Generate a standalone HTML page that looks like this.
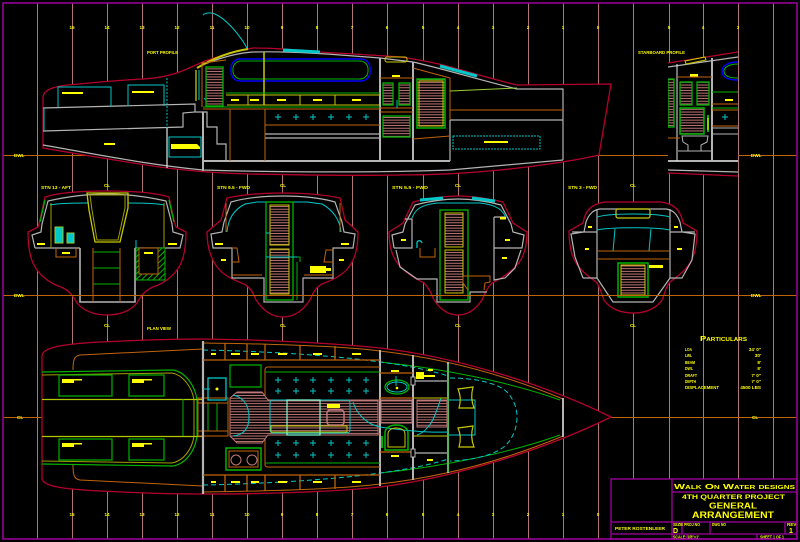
<!DOCTYPE html>
<html><head><meta charset="utf-8"><style>
html,body{margin:0;padding:0;background:#000;}
svg{display:block;}
text{font-family:"Liberation Sans",sans-serif;font-weight:bold;fill:#ffff00;}
.t{font-size:4.6px;}
</style></head><body>
<svg width="800" height="542" viewBox="0 0 800 542" xmlns="http://www.w3.org/2000/svg">
<defs>
<pattern id="h" width="6" height="2.7" patternUnits="userSpaceOnUse"><rect width="6" height="2.7" fill="#000"/><path d="M0 1.35H6" stroke="#c07878" stroke-width="1"/></pattern>
<pattern id="gh" width="4" height="4" patternUnits="userSpaceOnUse" patternTransform="rotate(-45)"><rect width="4" height="4" fill="#000"/><path d="M0 2H4" stroke="#00b400" stroke-width="1"/></pattern>
<clipPath id="cs"><rect x="668" y="40" width="70" height="140"/></clipPath>
</defs>
<rect width="800" height="542" fill="#000"/>

<!-- station lines -->
<path fill="none" stroke="#b07474" stroke-width="1" d="M37.5 3V539 M72.5 3V539 M107.5 3V539 M142.5 3V539 M177.5 3V539 M212.5 3V539 M247.5 3V539 M282.5 3V539 M317.5 3V539 M352.5 3V539 M387.5 3V539 M423.5 3V539 M458.5 3V539 M493.5 3V539 M528.5 3V539 M563.5 3V539 M598.5 3V539 M633.5 3V539 M669.5 3V539 M703.5 3V539 M738.5 3V539 M773.5 3V539"/>

<!-- DWL / CL lines -->
<path fill="none" stroke="#c0640a" stroke-width="1" d="M3 155.5H797 M3 417.5H42 M611 417.5H797"/>

<!-- station numbers -->
<g class="t" text-anchor="middle">
<text x="72" y="29">15</text><text x="107" y="29">14</text><text x="142" y="29">13</text><text x="177" y="29">12</text><text x="212" y="29">11</text><text x="247" y="29">10</text><text x="282" y="29">9</text><text x="317" y="29">8</text><text x="352" y="29">7</text><text x="387" y="29">6</text><text x="423" y="29">5</text><text x="458" y="29">4</text><text x="493" y="29">3</text><text x="528" y="29">2</text><text x="563" y="29">1</text><text x="598" y="29">0</text><text x="669" y="29">5</text><text x="703" y="29">4</text><text x="738" y="29">3</text>
<text x="72" y="516">15</text><text x="107" y="516">14</text><text x="142" y="516">13</text><text x="177" y="516">12</text><text x="212" y="516">11</text><text x="247" y="516">10</text><text x="282" y="516">9</text><text x="317" y="516">8</text><text x="352" y="516">7</text><text x="387" y="516">6</text><text x="423" y="516">5</text><text x="458" y="516">4</text><text x="493" y="516">3</text><text x="528" y="516">2</text><text x="563" y="516">1</text><text x="598" y="516">0</text>
</g>

<!-- ================= PORT PROFILE ================= -->
<path d="M43,97 C44,90 52,87 67,85 C90,83 120,80 143,79 C160,78 172,75 182,71 C192,67 198,64 205,61 C220,56 235,51 253,48 C275,48 300,50 320,52 C350,54 375,55 400,57 C415,59 430,62 443,65 C470,72 495,80 517,85 L611,84 L599,155 C570,162 520,168 500,170 C470,173 430,175 400,175 C350,176 300,175 250,174 C220,173 200,172 167,168 C130,163 90,156 43,148 Z" fill="#000" stroke="#b4002d" stroke-width="1.3"/>
<g fill="none" stroke="#b4b4b4" stroke-width="1.2">
<path d="M43,108 L195,104 L195,112 L183,113 L183,127 L43,131"/>
<path d="M43,145 C100,155 150,165 203,170 C300,173 400,172 450,170 L563,160"/>
<path d="M205,64 C220,58 238,53 253,52 C290,51 330,54 380,58 L413,62 C440,68 480,80 517,89 L563,89 L563,160"/>
<path d="M203,112 V171" stroke-width="2"/>
<path d="M195,112 H207 V127 H217 V144 H226 V161"/>
<path d="M203,161 H450" stroke-width="2"/>
<path d="M380,58 V161 M413,62 V161" stroke-width="2"/>
<path d="M450,120 H563 M450,120 V161"/>
<path d="M265,134 H380 M265,138 H380"/>
<path d="M167,128 V168" stroke="#e6e6e6"/>
</g>
<g fill="none" stroke="#00c8c8" stroke-width="1">
<path d="M58,107 V87 H111 V107 M128,106 V85 H164 V106"/>
<path d="M44,108 V131"/>
<path d="M167,78 V128" stroke-dasharray="2,1.5"/>
<rect x="169" y="137" width="32" height="20"/>
<path d="M248,50 C242,38 228,20 215,14 C210,12 205,13 203,15"/>
<path d="M283,50 L320,52" stroke-width="3"/>
<path d="M440,66 L477,76" stroke-width="3"/>
<rect x="453" y="136" width="87" height="13" stroke-dasharray="2,1"/>
<path d="M199,100 V70 M204,98 L208,103"/>
</g>
<g fill="#ffff00">
<rect x="62" y="92" width="21" height="2"/><rect x="132" y="91" width="22" height="2"/>
<rect x="104" y="143" width="11" height="2"/>
<path d="M171,144 H197 L200,147 L200,149 H171 Z"/>
</g>
<path d="M197,68 C212,59 228,52 248,49" fill="none" stroke="#c8c800" stroke-width="2"/>
<path d="M196,70 V101" fill="none" stroke="#c8c800" stroke-width="1.3"/>
<!-- cabin -->
<path d="M202,107 V63 L226,60" fill="none" stroke="#c0640a"/>
<rect x="206" y="67" width="17" height="39" fill="url(#h)" stroke="#00b400" stroke-width="1.3"/>
<rect x="231" y="59" width="139" height="22" rx="9" fill="none" stroke="#0000ff" stroke-width="1.5"/>
<rect x="233" y="61" width="135" height="18" rx="8" fill="none" stroke="#00b400"/>
<path d="M264,52 V105" stroke="#c8c800" stroke-width="1.5"/>
<path d="M226,93 H380 M203,107 H380" stroke="#00b400"/>
<path d="M226,95 H380 M227,105 H380 M248,95 V105 M300,95 V105 M335,95 V105" fill="none" stroke="#c8c800"/>
<g fill="#ffff00"><rect x="231" y="99" width="8" height="2"/><rect x="250" y="99" width="9" height="2"/><rect x="277" y="99" width="9" height="2"/><rect x="313" y="99" width="9" height="2"/><rect x="352" y="99" width="9" height="2"/></g>
<path d="M203,109 H380 M230,109 V161 M265,109 V161 M265,125 H380" fill="none" stroke="#c0640a"/>
<path fill="none" stroke="#00c8c8" d="M275,117h6M278,114v6 M293,117h6M296,114v6 M310,117h6M313,114v6 M328,117h6M331,114v6 M346,117h6M349,114v6 M363,117h6M366,114v6"/>
<rect x="385" y="57" width="22" height="5" rx="2" fill="none" stroke="#c8c800"/>
<rect x="392" y="75" width="8" height="2" fill="#ffff00"/>
<path d="M380,78 H413 M380,108 H413 M380,112 H413" stroke="#c0640a"/>
<rect x="383" y="83" width="10" height="22" fill="url(#h)" stroke="#00b400" stroke-width="1.3"/>
<rect x="399" y="83" width="11" height="22" fill="url(#h)" stroke="#00b400" stroke-width="1.3"/>
<rect x="383" y="116" width="27" height="21" fill="url(#h)" stroke="#00b400" stroke-width="1.3"/>
<path d="M397,100 V108" stroke="#00c8c8"/>
<rect x="417" y="79" width="28" height="49" fill="url(#h)" stroke="#00b400" stroke-width="1.5"/>
<rect x="419" y="81" width="24" height="45" fill="none" stroke="#c8c800"/>
<path d="M413,68 L450,78 V120 M413,139 L450,136 M450,110 H563" fill="none" stroke="#c0640a"/>
<path d="M450,91 L517,88" stroke="#9acd32"/>
<rect x="484" y="141" width="24" height="2" fill="#ffff00"/>

<!-- ============ STARBOARD partial profile ============ -->
<g clip-path="url(#cs)">
<path d="M668,63 L738,52 L738,177 L668,173 Z" fill="#000"/>
<path d="M668,63 L738,52 M668,173 L738,176" fill="none" stroke="#b4002d" stroke-width="1.3"/>
<path d="M668,67 L738,57 M668,170 L738,172" fill="none" stroke="#b4b4b4" stroke-width="1.2"/>
<path d="M668,161 H738 M712,58 V161" stroke="#b4b4b4" stroke-width="2"/>
<path d="M677,64 V161" stroke="#e6e6e6"/>
<path d="M685,61 L705,57 L706,60 L686,64 Z" fill="none" stroke="#c8c800"/>
<rect x="690" y="74" width="8" height="2.5" fill="#ffff00"/>
<path d="M678,77 H712 M668,138 H680" stroke="#c0640a"/>
<rect x="668" y="79" width="6" height="48" fill="url(#h)" stroke="#00b400" stroke-width="1.3"/>
<rect x="680" y="82" width="12" height="23" fill="url(#h)" stroke="#00b400" stroke-width="1.3"/>
<rect x="697" y="82" width="12" height="23" fill="url(#h)" stroke="#00b400" stroke-width="1.3"/>
<rect x="680" y="108" width="24" height="26" fill="url(#h)" stroke="#00b400" stroke-width="1.5"/>
<path d="M708,115 V132" stroke="#00b400" stroke-width="2"/><path d="M708,118 V130" stroke="#ffff00"/>
<path d="M682,136 H708 L707,142 L701,145 V151 H688 V145 L683,142 Z M678,151 H712" fill="none" stroke="#b4b4b4"/>
<path d="M738,62 C728,62 722,66 722,71 C722,77 728,80 738,80" fill="none" stroke="#0000ff" stroke-width="1.5"/>
<path d="M738,64 C730,64 724,67 724,71 C724,76 730,78 738,78" fill="none" stroke="#00b400"/>
<path d="M712,92 H738 M712,108 H738" stroke="#00b400"/>
<path d="M712,104 H738 M712,110 H738 M712,126 H738" stroke="#c0640a"/>
<path d="M712,128 H738 M712,134 H738" stroke="#b4b4b4"/>
<rect x="725" y="99" width="8" height="2" fill="#ffff00"/>
<path d="M722,117h6M725,114v6" stroke="#00c8c8"/>
</g>

<!-- profile labels -->
<text class="t" x="147" y="54" textLength="31" lengthAdjust="spacingAndGlyphs">PORT PROFILE</text>
<text class="t" x="638" y="54" textLength="47" lengthAdjust="spacingAndGlyphs">STARBOARD PROFILE</text>
<text class="t" x="14" y="157">DWL</text>
<text class="t" x="751" y="157">DWL</text>

<!-- ================= SECTIONS ================= -->
<!-- Section 1 -->
<path d="M45,197 C60,192 85,191 107,191 C129,191 154,192 169,197 L174,220 L176,227 L186,232 C186,245 184,258 180,265 C175,275 165,283 153,287 C146,290 141,295 137,303 C130,311 120,315 107,315 C94,315 84,311 77,303 C73,295 68,290 61,287 C49,283 39,275 34,265 C30,258 28,245 28,232 L38,227 L40,220 Z" fill="#000" stroke="#b4002d" stroke-width="1.3"/>
<g fill="none" stroke="#b4b4b4" stroke-width="1.2">
<path d="M35,248 L32,235 L41,232 L42,224 L48,201 C70,196 90,194 107,194 C124,194 144,196 166,201 L172,224 L173,232 L183,235 L180,248 H135 M80,248 H35"/>
<path d="M80,248 V302 H135 V248" stroke-width="1.6"/>
</g>
<path d="M45,200 L40,222 M169,200 L174,222" stroke="#00b400" stroke-width="1.3"/>
<path d="M50,205 C60,203 75,203 88,203 M128,203 C140,203 155,203 164,205" fill="none" stroke="#00c8c8"/>
<path d="M51,203 V248 M164,203 V248" stroke="#a0a000"/>
<path d="M87,193 H128 V208 L120,242 H95 L89,210 Z" fill="none" stroke="#c8c800" stroke-width="1.3"/>
<path d="M90,195 H125 V208 L118,240 H97 L92,210 Z" fill="none" stroke="#a0a000"/>
<rect x="55" y="227" width="8" height="16" fill="#00c8c8" stroke="#9acd32" stroke-width="1"/>
<rect x="67" y="233" width="7" height="10" fill="#00c8c8" stroke="#9acd32" stroke-width="1"/>
<rect x="37" y="243" width="8" height="2" fill="#ffff00"/><rect x="168" y="243" width="9" height="2" fill="#ffff00"/>
<path d="M56,248 V257 H76 V248 M93,248 V302 M120,248 V302" fill="none" stroke="#c0640a"/>
<rect x="62" y="252" width="8" height="2" fill="#ffff00"/>
<path d="M93,252 H120 M93,268 H120 M93,284 H120" stroke="#00b400"/>
<rect x="136" y="248" width="29" height="32" fill="url(#gh)" stroke="#00b400"/>
<rect x="139" y="248" width="19" height="26" fill="#000" stroke="#c0640a"/>
<rect x="144" y="252" width="9" height="2" fill="#ffff00"/>
<path d="M136,240 V248" stroke="#00c8c8"/>

<!-- Section 2 -->
<path d="M227,198 C245,194 265,193 283,193 C301,193 321,194 340,198 L345,220 L358,232 C358,245 356,255 352,262 C347,272 338,278 322,284 C315,288 313,293 310,300 C303,310 295,317 283,317 C271,317 263,310 256,300 C253,293 251,288 244,284 C228,278 219,272 214,262 C210,255 207,245 207,232 L221,220 Z" fill="#000" stroke="#b4002d" stroke-width="1.3"/>
<g fill="none" stroke="#b4b4b4" stroke-width="1.2">
<path d="M213,248 L211,234 L222,232 L224,222 L231,202 C245,198 265,196 283,196 C301,196 321,198 335,202 L342,222 L344,232 L355,234 L353,248 H333 V278 H303 V302 H264 V278 H232 V248 Z"/>
</g>
<path d="M227,232 C228,220 233,210 245,204 L257,202 H307 L322,204 C333,210 340,220 341,232" fill="none" stroke="#00c8c8"/>
<path d="M226,203 V232 M340,203 V232" stroke="#c0640a"/>
<rect x="266" y="202" width="27" height="98" fill="none" stroke="#00b400" stroke-width="1.3"/>
<rect x="270" y="205" width="19" height="40" fill="url(#h)" stroke="#c8c800"/>
<rect x="270" y="249" width="19" height="45" fill="url(#h)" stroke="#c8c800"/>
<path d="M266,257 H297 M266,233 H270" stroke="#00c8c8"/>
<path d="M297,257 H300 V262 M297,262 V300 M293,265 V300" fill="none" stroke="#00b400"/>
<path d="M310,266 H326 V268 H331 V271 H326 V273 H310 Z" fill="#ffff00"/>
<path d="M232,248 H237 L239,262 H232 M232,275 H262 M304,275 H333 M333,250 H326 L324,262 H333" fill="none" stroke="#c0640a"/>
<g fill="#ffff00"><rect x="215" y="243" width="8" height="2"/><rect x="341" y="243" width="8" height="2"/><rect x="221" y="259" width="5" height="2"/><rect x="339" y="259" width="5" height="2"/></g>

<!-- Section 3 -->
<path d="M413,202 C430,198 445,196 458,196 C471,196 486,198 503,202 L513,223 L527,232 C527,245 524,258 516,266 C510,273 502,278 492,283 C487,288 485,293 482,300 C476,309 468,315 458,315 C448,315 440,309 434,300 C431,293 429,288 424,283 C414,278 406,273 400,266 C392,258 389,245 389,232 L403,223 Z" fill="#000" stroke="#b4002d" stroke-width="1.3"/>
<g fill="none" stroke="#b4b4b4" stroke-width="1.2">
<path d="M394,248 L392,235 L403,232 L405,224 L415,205 C430,201 445,199 458,199 C471,199 486,201 501,205 L511,224 L513,232 L524,235 L522,248 H494"/>
<path d="M394,248 H412 V219 H405 M396,250 L400,267 L417,279 H437 V302 H470 V292 H487 M494,217 V280 L505,278 L515,268 L521,250 M494,217 H506"/>
</g>
<path d="M420,200 L443,198 M472,198 L495,201" stroke="#00c8c8" stroke-width="3"/>
<path d="M412,218 C415,210 420,205 437,203 H480 C497,205 503,210 506,218" fill="none" stroke="#00c8c8"/>
<rect x="440" y="210" width="28" height="90" fill="none" stroke="#00b400" stroke-width="1.3"/>
<rect x="445" y="213" width="18" height="34" fill="url(#h)" stroke="#c8c800"/>
<rect x="445" y="250" width="18" height="43" fill="url(#h)" stroke="#c8c800"/>
<path d="M420,248 V257 H435 V248 M463,276 H490 V282 L485,283 L484,290 M463,276 V283 L468,290" fill="none" stroke="#c0640a"/>
<path d="M417,248 V243 C417,240 421,240 422,243" fill="none" stroke="#00c8c8" stroke-width="1.3"/>
<g fill="#ffff00"><rect x="401" y="239" width="5" height="2"/><rect x="505" y="239" width="5" height="2"/><rect x="502" y="257" width="5" height="2"/><rect x="500" y="217" width="6" height="2.5"/></g>

<!-- Section 4 -->
<path d="M583,223 C585,212 590,204 605,202 L661,202 C676,204 681,212 683,223 L697,231 C697,245 695,255 690,263 C685,271 678,276 670,282 C666,286 665,293 662,300 C656,309 645,313 633,313 C621,313 610,309 604,300 C601,293 600,286 596,282 C588,276 581,271 576,263 C571,255 569,245 569,231 Z" fill="#000" stroke="#b4002d" stroke-width="1.3"/>
<g fill="none" stroke="#b4b4b4" stroke-width="1.2">
<path d="M583,278 L575,257 L571,234 L584,232 L586,222 C589,214 593,210 600,209 L666,209 C673,210 677,214 680,222 L682,232 L695,234 L692,260 L682,278 H670 V209 M597,209 V278 H583 M572,232 H597 M670,232 H695"/>
<path d="M597,278 L613,302 H653 L670,278"/>
</g>
<path d="M597,217 C610,213 656,213 670,217 M597,230 C610,227 656,227 670,230 M615,229 L613,251 M651,229 L649,251" fill="none" stroke="#00c8c8"/>
<rect x="616" y="209" width="34" height="9" rx="2" fill="none" stroke="#c8c800" stroke-width="1.2"/>
<path d="M597,251 H670 M597,259 H670" stroke="#c0640a"/>
<rect x="618" y="263" width="30" height="34" fill="none" stroke="#00b400" stroke-width="1.5"/>
<rect x="621" y="265" width="24" height="30" fill="url(#h)" stroke="#c8c800"/>
<g fill="#ffff00"><rect x="649" y="265" width="14" height="3"/><rect x="588" y="226" width="4" height="2"/><rect x="674" y="226" width="4" height="2"/><rect x="585" y="248" width="4" height="2"/><rect x="677" y="248" width="5" height="2"/></g>

<!-- DWL through sections -->
<path d="M3 295.5H797" stroke="#c0640a" stroke-width="1"/>
<text class="t" x="14" y="297">DWL</text>
<text class="t" x="751" y="297">DWL</text>

<!-- section labels -->
<text class="t" x="41" y="189" textLength="30" lengthAdjust="spacingAndGlyphs">STN 13 - AFT</text>
<text class="t" x="217" y="189" textLength="33" lengthAdjust="spacingAndGlyphs">STN 9.5 - FWD</text>
<text class="t" x="392" y="189" textLength="36" lengthAdjust="spacingAndGlyphs">STN 5.5 - FWD</text>
<text class="t" x="568" y="189" textLength="29" lengthAdjust="spacingAndGlyphs">STN 3 - FWD</text>
<g class="t" text-anchor="middle">
<text x="107" y="187">CL</text><text x="283" y="187">CL</text><text x="458" y="187">CL</text><text x="633" y="187">CL</text>
<text x="107" y="327">CL</text><text x="283" y="327">CL</text><text x="458" y="327">CL</text><text x="633" y="327">CL</text>
</g>
<text class="t" x="147" y="330" textLength="24" lengthAdjust="spacingAndGlyphs">PLAN VIEW</text>

<!-- ================= PLAN ================= -->
<path d="M42,356 C42,348 60,344 100,342 C140,340 170,339 203,339 C280,340 340,344 380,348 C450,356 540,382 611,417 C540,452 450,478 380,487 C340,491 280,494 203,494 C170,494 140,493 100,491 C60,489 42,486 42,478 Z" fill="#000" stroke="#b4002d" stroke-width="1.3"/>
<g fill="none" stroke="#c0640a" stroke-width="1">
<path d="M73,370 C73,360 74,356 80,355 L203,349 M73,465 C73,475 74,479 80,480 L203,486"/>
<path d="M203,343 C280,344 340,346 380,351 C450,359 510,377 563,399 M203,492 C280,491 340,489 380,484 C450,476 510,458 563,436"/>
</g>
<path d="M380,362 C440,368 510,382 560,400 M380,473 C440,467 510,453 560,435" fill="none" stroke="#00b400"/>
<path d="M203,350 C300,352 400,360 448,376 M203,485 C300,483 400,475 448,459" fill="none" stroke="#00c8c8" stroke-dasharray="5,3"/>
<path d="M450,378 C480,378 500,385 507,392 C514,400 517,408 517,417 C517,426 514,436 507,444 C500,452 480,460 450,461" fill="none" stroke="#00c8c8" stroke-dasharray="5,3"/>
<!-- cockpit -->
<path d="M42,372 L173,370 C185,372 195,385 197,400 L197,436 C195,452 185,464 173,466 L42,464" fill="none" stroke="#00b400" stroke-width="1.2"/>
<path d="M42,375 L172,373 C183,375 192,387 194,400 L194,436 C192,450 183,461 172,463 L42,461" fill="none" stroke="#a0a000"/>
<path d="M42,399.5 H203 M42,436.5 H203" stroke="#b4c800" stroke-width="1.2"/>
<path d="M183,399 V436" stroke="#00b400"/>
<g fill="none" stroke="#00b400" stroke-width="1.2"><rect x="59" y="375" width="53" height="21"/><rect x="129" y="375" width="35" height="21"/><rect x="59" y="439" width="53" height="21"/><rect x="129" y="439" width="35" height="21"/></g>
<g fill="#ffff00"><rect x="62" y="379" width="12" height="4"/><rect x="74" y="379" width="8" height="1.5"/><rect x="132" y="379" width="12" height="4"/><rect x="144" y="379" width="8" height="1.5"/><rect x="62" y="443" width="12" height="4"/><rect x="74" y="443" width="8" height="1.5"/><rect x="132" y="443" width="12" height="4"/><rect x="144" y="443" width="8" height="1.5"/></g>
<!-- companionway -->
<rect x="198" y="398" width="30" height="38" fill="none" stroke="#c0640a"/>
<path d="M208,403 V431 M217,403 V431" stroke="#00b400"/>
<path d="M198,403 H228 M198,431 H228" stroke="#c0640a"/>
<!-- bulkheads -->
<path d="M203,341 V494" stroke="#b4b4b4" stroke-width="2.2"/>
<path d="M380,350 V486" stroke="#b4b4b4" stroke-width="2"/>
<path d="M413,355 V480 M448,362 V473" stroke="#b4b4b4" stroke-width="2"/>
<path d="M413,381 H448 M413,453 H448" stroke="#b4b4b4" stroke-width="1.2"/>
<!-- lockers -->
<path d="M203,360 H380 M225,343 V360 M247,344 V360 M265,344 V360 M300,345 V360 M335,346 V360 M203,475 H380 M225,475 V492 M247,475 V491 M265,475 V491 M300,475 V490 M335,475 V489" fill="none" stroke="#c0640a" stroke-width="1.3"/>
<g fill="#ffff00"><rect x="211" y="353" width="5" height="2"/><rect x="231" y="353" width="9" height="2"/><rect x="251" y="353" width="8" height="2"/><rect x="278" y="353" width="9" height="2"/><rect x="313" y="353" width="9" height="2"/><rect x="352" y="353" width="9" height="2"/>
<rect x="211" y="481" width="5" height="2"/><rect x="231" y="481" width="9" height="2"/><rect x="251" y="481" width="8" height="2"/><rect x="278" y="481" width="9" height="2"/><rect x="313" y="481" width="9" height="2"/><rect x="352" y="481" width="9" height="2"/></g>
<rect x="230" y="365" width="31" height="22" fill="none" stroke="#00b400" stroke-width="1.2"/>
<rect x="208" y="378" width="18" height="22" fill="none" stroke="#00c8c8" stroke-width="1.3"/>
<circle cx="217" cy="389" r="1.5" fill="#ffff00"/>
<path d="M203,389 H210" stroke="#00c8c8"/>
<!-- settees -->
<path d="M380,367 H268 Q265,367 265,370 V396 Q265,400 270,400 H380 M380,434 H270 Q265,434 265,439 V465 Q265,467 268,467 H380" fill="none" stroke="#c0640a"/>
<path d="M265,372 H380 M265,463 H380" stroke="#00b400"/>
<path fill="none" stroke="#00c8c8" d="M275,380h6M278,377v6 M293,380h6M296,377v6 M310,380h6M313,377v6 M328,380h6M331,377v6 M346,380h6M349,377v6 M363,380h6M366,377v6 M275,391h6M278,388v6 M293,391h6M296,388v6 M310,391h6M313,388v6 M328,391h6M331,388v6 M346,391h6M349,388v6 M363,391h6M366,388v6 M275,443h6M278,440v6 M293,443h6M296,440v6 M310,443h6M313,440v6 M328,443h6M331,440v6 M346,443h6M349,440v6 M363,443h6M366,440v6 M275,455h6M278,452v6 M293,455h6M296,452v6 M310,455h6M313,452v6 M328,455h6M331,452v6 M346,455h6M349,452v6 M363,455h6M366,452v6"/>
<!-- sole -->
<path d="M230,398 L237,392 H262 L268,400 H378 V435 H268 L262,443 H237 L230,436 Z" fill="url(#h)" stroke="#c07878"/>
<path d="M233,395 C243,397 249,405 249,417 C249,429 243,435 233,436" fill="none" stroke="#00c8c8"/>
<rect x="270" y="400" width="80" height="33" rx="3" fill="none" stroke="#00c8c8"/>
<rect x="287" y="400" width="33" height="35" fill="none" stroke="#7fffd4" stroke-width="1.2"/>
<rect x="271" y="426" width="76" height="6" fill="none" stroke="#c8c800"/>
<rect x="327" y="404" width="13" height="4" fill="#ffff00"/>
<rect x="327" y="410" width="17" height="15" rx="3" fill="none" stroke="#c07878" stroke-width="1.5"/>
<path d="M353,402 C356,412 365,424 380,427 C400,430 425,433 448,432" fill="none" stroke="#00c8c8"/>
<!-- galley -->
<rect x="226" y="448" width="35" height="22" fill="none" stroke="#00b400" stroke-width="1.5"/>
<rect x="229" y="451" width="29" height="16" fill="none" stroke="#c0640a"/>
<circle cx="236" cy="460" r="5" fill="none" stroke="#c07878"/><circle cx="252" cy="460" r="5" fill="none" stroke="#c07878"/>
<!-- head -->
<rect x="391" y="370" width="8" height="2" fill="#ffff00"/>
<path d="M380,373 H413 M380,398 H413 M380,452 H413" stroke="#c0640a" stroke-width="1.2"/>
<ellipse cx="397" cy="387" rx="12" ry="7" fill="none" stroke="#00b400" stroke-width="1.3"/>
<ellipse cx="397" cy="387" rx="10" ry="5" fill="none" stroke="#00c8c8"/>
<path d="M396,376 V386" stroke="#00c8c8"/><circle cx="397" cy="388" r="1.3" fill="#ffff00"/>
<rect x="381" y="400" width="31" height="23" fill="url(#h)" stroke="#c07878"/>
<path d="M385,450 V433 C385,428 390,425 396,425 C403,425 408,428 408,433 V450 Z" fill="none" stroke="#00b400" stroke-width="1.5"/>
<path d="M388,447 V434 C388,430 392,428 396,428 C401,428 405,430 405,434 V447 Z" fill="none" stroke="#c8c800"/>
<path d="M382,436 V448" stroke="#00b400" stroke-width="2"/>
<rect x="391" y="455" width="8" height="2" fill="#ffff00"/>
<rect x="411" y="377" width="4" height="8" fill="#000" stroke="#b4b4b4"/><rect x="411" y="449" width="4" height="8" fill="#000" stroke="#b4b4b4"/>
<path d="M416,372 H424 V375 H435 V377 H424 V379 H416 Z" fill="#ffff00"/>
<rect x="428" y="369" width="5" height="2" fill="#ffff00"/><rect x="427" y="459" width="6" height="2" fill="#ffff00"/>
<rect x="417" y="400" width="30" height="27" fill="url(#h)" stroke="#c07878"/>
<path d="M441,398 C437,410 433,422 428,427 C424,432 420,434 417,435" fill="none" stroke="#00c8c8"/>
<path d="M413,398 H448 M413,436 H448" stroke="#c8c800"/>
<!-- v-berth -->
<path d="M448,400 H475 V435 H448" fill="none" stroke="#00c8c8"/>
<path d="M458,389 L473,387 Q470,398 474,408 L459,408 Q462,398 458,389 Z" fill="none" stroke="#c8c800" stroke-width="1.2"/>
<path d="M458,428 L473,426 Q470,437 474,447 L459,447 Q462,437 458,428 Z" fill="none" stroke="#c8c800" stroke-width="1.2"/>
<path d="M563,398 V437" stroke="#b4b4b4" stroke-width="2"/>
<path d="M448,364 V472" stroke="#00b400"/>
<text class="t" x="17" y="419">CL</text>
<text class="t" x="752" y="419">CL</text>

<!-- ================= PARTICULARS ================= -->
<text x="700" y="341" font-size="7.5" textLength="47" lengthAdjust="spacingAndGlyphs" style="font-variant:small-caps">Particulars</text>
<g class="t" font-size="4.2">
<text x="685" y="351" textLength="7" lengthAdjust="spacingAndGlyphs">LOA</text>
<text x="685" y="357" textLength="7" lengthAdjust="spacingAndGlyphs">LWL</text>
<text x="685" y="364" textLength="10" lengthAdjust="spacingAndGlyphs">BEAM</text>
<text x="685" y="370" textLength="8" lengthAdjust="spacingAndGlyphs">DWL</text>
<text x="685" y="377" textLength="12" lengthAdjust="spacingAndGlyphs">DRAFT</text>
<text x="685" y="383" textLength="11" lengthAdjust="spacingAndGlyphs">DEPTH</text>
<text x="685" y="389" textLength="34" lengthAdjust="spacingAndGlyphs">DISPLACEMENT</text>
</g>
<g class="t" font-size="4.2" text-anchor="end">
<text x="761" y="351">34' 0"</text><text x="761" y="357">30'</text><text x="761" y="364">8'</text><text x="761" y="370">8'</text><text x="761" y="377">7' 0"</text><text x="761" y="383">7' 0"</text><text x="761" y="389">4500 LBS</text>
</g>

<!-- ================= TITLE BLOCK ================= -->
<rect x="611" y="479" width="186" height="60" fill="#000" stroke="#a000a0" stroke-width="1.3"/>
<path d="M672,479 V539 M672,492 H797 M611,522 H797 M611,534 H797 M682,522 V534 M710,522 V534 M785,522 V534 M687,534 V539 M757,534 V539" fill="none" stroke="#a000a0" stroke-width="1.3"/>
<text x="674" y="489" font-size="7.2" textLength="121" lengthAdjust="spacingAndGlyphs" style="font-variant:small-caps">Walk On Water designs</text>
<text x="682" y="499" font-size="6.5" textLength="103" lengthAdjust="spacingAndGlyphs">4TH QUARTER PROJECT</text>
<text x="709" y="508.5" font-size="8.6" textLength="48" lengthAdjust="spacingAndGlyphs">GENERAL</text>
<text x="692" y="518" font-size="8.8" textLength="82" lengthAdjust="spacingAndGlyphs">ARRANGEMENT</text>
<text class="t" x="615" y="530" textLength="50" lengthAdjust="spacingAndGlyphs">PETER ROSTENLEER</text>
<text class="t" x="673" y="526" font-size="3.5">SIZE</text>
<text x="673" y="533" font-size="7">D</text>
<text class="t" x="684" y="526" font-size="3.5" textLength="16" lengthAdjust="spacingAndGlyphs">PROJ NO</text>
<text class="t" x="712" y="526" font-size="3.5" textLength="14" lengthAdjust="spacingAndGlyphs">DWG NO</text>
<text class="t" x="787" y="526" font-size="3.5">REV</text>
<text x="789" y="533" font-size="7">1</text>
<text class="t" x="673" y="538.5" font-size="3.5" textLength="26" lengthAdjust="spacingAndGlyphs">SCALE: 1/8"=1'</text>
<text class="t" x="760" y="538.5" font-size="3.5" textLength="24" lengthAdjust="spacingAndGlyphs">SHEET 1 OF 1</text>

<!-- outer frame -->
<rect x="3" y="3" width="794" height="536" fill="none" stroke="#a000a0" stroke-width="1.5"/>
</svg>
</body></html>
